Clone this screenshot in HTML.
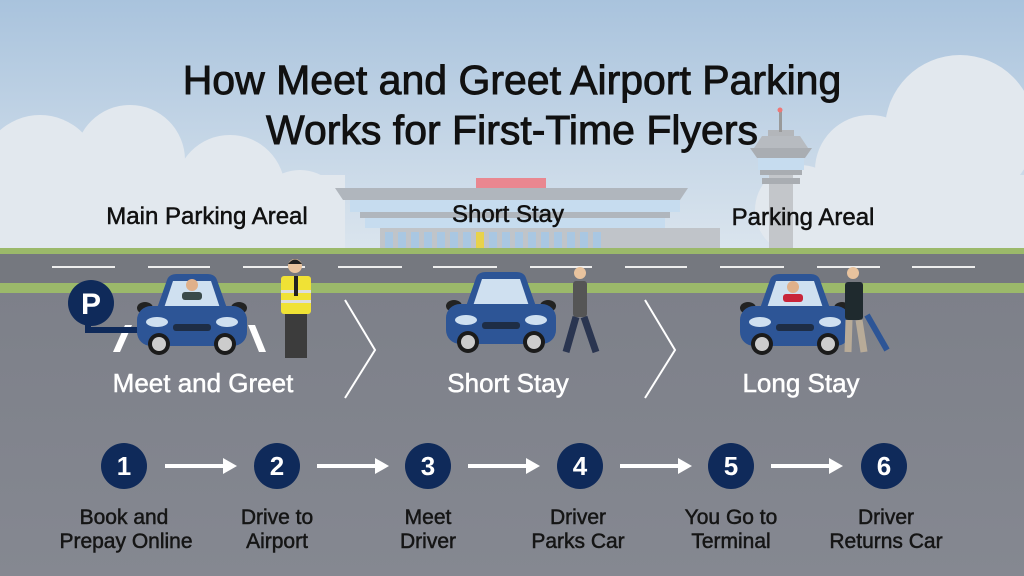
<!DOCTYPE html>
<html><head><meta charset="utf-8"><style>
html,body{margin:0;padding:0;width:1024px;height:576px;overflow:hidden}
svg{display:block}
text{font-family:"Liberation Sans",sans-serif}
</style></head><body>
<svg width="1024" height="576" viewBox="0 0 1024 576" xmlns="http://www.w3.org/2000/svg">
<defs>
<linearGradient id="sky" x1="0" y1="0" x2="0" y2="1">
<stop offset="0" stop-color="#a9c3dd"/><stop offset="1" stop-color="#dbe5ee"/>
</linearGradient>
<linearGradient id="road" x1="0" y1="0" x2="0" y2="1">
<stop offset="0" stop-color="#7c7f88"/><stop offset="1" stop-color="#858891"/>
</linearGradient>
<g id="car">
<path d="M18,42 L30,8 Q32,2 40,2 L70,2 Q78,2 80,8 L92,42 Z" fill="#2d5596"/>
<path d="M27,36 L36,9 L74,9 L83,36 Z" fill="#cfe0f0"/>
<ellipse cx="8" cy="36" rx="8" ry="6" fill="#222"/>
<ellipse cx="102" cy="36" rx="8" ry="6" fill="#222"/>
<rect x="0" y="34" width="110" height="40" rx="14" fill="#2d5596"/>
<ellipse cx="20" cy="50" rx="11" ry="5" fill="#cfe0f0"/>
<ellipse cx="90" cy="50" rx="11" ry="5" fill="#cfe0f0"/>
<rect x="36" y="52" width="38" height="7" rx="3" fill="#1e2d45"/>
<circle cx="22" cy="72" r="11" fill="#1b1b1b"/><circle cx="22" cy="72" r="7" fill="#ccc"/>
<circle cx="88" cy="72" r="11" fill="#1b1b1b"/><circle cx="88" cy="72" r="7" fill="#ccc"/>
</g>
</defs>
<rect width="1024" height="252" fill="url(#sky)"/>
<g fill="#e2e8ee">
<circle cx="40" cy="175" r="60"/><circle cx="130" cy="160" r="55"/><circle cx="230" cy="190" r="55"/><circle cx="300" cy="215" r="45"/>
<rect x="0" y="175" width="345" height="77"/>
<circle cx="870" cy="170" r="55"/><circle cx="960" cy="130" r="75"/><circle cx="800" cy="210" r="45"/>
<rect x="770" y="175" width="254" height="77"/>
</g>
<rect x="476" y="178" width="70" height="10" fill="#e98790"/>
<polygon points="335,188 688,188 680,200 343,200" fill="#b0b6bd"/>
<rect x="350" y="200" width="330" height="12" fill="#c6dcef"/>
<rect x="360" y="212" width="310" height="6" fill="#b0b6bd"/>
<rect x="365" y="218" width="300" height="10" fill="#c6dcef"/>
<rect x="380" y="228" width="340" height="22" fill="#c0c4c9"/>
<g fill="#a9c7e2">
<rect x="385" y="232" width="8" height="16"/><rect x="398" y="232" width="8" height="16"/><rect x="411" y="232" width="8" height="16"/><rect x="424" y="232" width="8" height="16"/><rect x="437" y="232" width="8" height="16"/><rect x="450" y="232" width="8" height="16"/><rect x="463" y="232" width="8" height="16"/><rect x="489" y="232" width="8" height="16"/><rect x="502" y="232" width="8" height="16"/><rect x="515" y="232" width="8" height="16"/><rect x="528" y="232" width="8" height="16"/><rect x="541" y="232" width="8" height="16"/><rect x="554" y="232" width="8" height="16"/><rect x="567" y="232" width="8" height="16"/><rect x="580" y="232" width="8" height="16"/><rect x="593" y="232" width="8" height="16"/>
</g>
<rect x="476" y="232" width="8" height="16" fill="#e8d24a"/>
<rect x="769" y="160" width="24" height="92" fill="#c3c6ca"/>
<polygon points="750,148 812,148 805,158 757,158" fill="#a9adb2"/>
<rect x="758" y="158" width="46" height="12" fill="#c6dcef"/>
<rect x="760" y="170" width="42" height="5" fill="#a9adb2"/>
<rect x="762" y="178" width="38" height="6" fill="#a9adb2"/>
<rect x="768" y="130" width="26" height="6" fill="#b3b6ba"/>
<polygon points="762,136 800,136 808,148 754,148" fill="#b7bbc0"/>
<rect x="779" y="110" width="3" height="22" fill="#999"/>
<circle cx="780" cy="110" r="2.5" fill="#e77"/>
<rect y="248" width="1024" height="6" fill="#9bb96a"/>
<rect y="254" width="1024" height="322" fill="url(#road)"/>
<rect y="254" width="1024" height="30" fill="#75787f"/>
<rect y="283" width="1024" height="10" fill="#9bb96a"/>
<g stroke="#eee" stroke-width="2">
<line x1="52" y1="267" x2="115" y2="267"/><line x1="148" y1="267" x2="210" y2="267"/><line x1="243" y1="267" x2="305" y2="267"/><line x1="338" y1="267" x2="402" y2="267"/><line x1="433" y1="267" x2="497" y2="267"/><line x1="530" y1="267" x2="592" y2="267"/><line x1="625" y1="267" x2="687" y2="267"/><line x1="720" y1="267" x2="784" y2="267"/><line x1="817" y1="267" x2="880" y2="267"/><line x1="912" y1="267" x2="975" y2="267"/>
</g>
<g fill="#111" stroke="#111" stroke-width="0.9" text-anchor="middle">
<text x="512" y="94" font-size="41">How Meet and Greet Airport Parking</text>
<text x="512" y="144" font-size="41">Works for First-Time Flyers</text>
</g>
<g fill="#111" stroke="#111" stroke-width="0.5" text-anchor="middle" font-size="24">
<text x="207" y="224">Main Parking Areal</text>
<text x="508" y="222">Short Stay</text>
<text x="803" y="225">Parking Areal</text>
</g>
<polygon points="125,325 132,325 120,352 113,352" fill="#fff"/>
<polygon points="248,325 255,325 266,352 259,352" fill="#fff"/>
<path d="M88,320 L88,330 L150,330" stroke="#0f2a5a" stroke-width="6" fill="none"/>
<circle cx="91" cy="303" r="23" fill="#0f2a5a"/>
<text x="91" y="314" font-size="30" font-weight="bold" fill="#fff" text-anchor="middle">P</text>
<use href="#car" x="137" y="272"/>
<circle cx="192" cy="285" r="6" fill="#e0b08a"/><rect x="182" y="292" width="20" height="8" rx="3" fill="#3a4a4a"/>
<use href="#car" x="446" y="270"/>
<use href="#car" x="740" y="272"/>
<circle cx="793" cy="287" r="6" fill="#e0b08a"/><rect x="783" y="294" width="20" height="8" rx="3" fill="#c8253a"/>
<circle cx="295" cy="266" r="7" fill="#e8c39e"/><path d="M288,264 Q295,255 302,264 Z" fill="#222"/>
<rect x="281" y="276" width="30" height="38" rx="3" fill="#f0e235"/>
<rect x="281" y="290" width="30" height="3" fill="#ddd"/><rect x="281" y="300" width="30" height="3" fill="#ddd"/>
<rect x="294" y="276" width="4" height="20" fill="#222"/>
<rect x="285" y="314" width="22" height="44" fill="#3c3c3c"/>
<circle cx="580" cy="273" r="6" fill="#e8c39e"/>
<rect x="573" y="281" width="14" height="36" rx="3" fill="#555"/>
<path d="M576,317 L566,352 M584,317 L596,352" stroke="#2a3550" stroke-width="7"/>
<circle cx="853" cy="273" r="6" fill="#e8c39e"/>
<rect x="845" y="282" width="18" height="38" rx="3" fill="#1f2a2e"/>
<path d="M849,320 L848,352 M859,320 L864,352" stroke="#b8ab98" stroke-width="7"/>
<line x1="867" y1="315" x2="887" y2="350" stroke="#2d5596" stroke-width="6"/>
<polyline points="345,300 375,350 345,398" stroke="#fff" stroke-width="2" fill="none"/>
<polyline points="645,300 675,350 645,398" stroke="#fff" stroke-width="2" fill="none"/>
<g font-size="26" fill="#fff" stroke="#fff" stroke-width="0.5" text-anchor="middle">
<text x="203" y="392">Meet and Greet</text>
<text x="508" y="392">Short Stay</text>
<text x="801" y="392">Long Stay</text>
</g>
<g fill="#0f2a5a">
<circle cx="124" cy="466" r="23"/><circle cx="277" cy="466" r="23"/><circle cx="428" cy="466" r="23"/><circle cx="580" cy="466" r="23"/><circle cx="731" cy="466" r="23"/><circle cx="884" cy="466" r="23"/>
</g>
<g font-size="26" font-weight="bold" fill="#fff" text-anchor="middle">
<text x="124" y="475">1</text><text x="277" y="475">2</text><text x="428" y="475">3</text><text x="580" y="475">4</text><text x="731" y="475">5</text><text x="884" y="475">6</text>
</g>
<g stroke="#fff" stroke-width="4">
<line x1="165" y1="466" x2="225" y2="466"/><line x1="317" y1="466" x2="377" y2="466"/><line x1="468" y1="466" x2="528" y2="466"/><line x1="620" y1="466" x2="680" y2="466"/><line x1="771" y1="466" x2="831" y2="466"/>
</g>
<g fill="#fff">
<polygon points="223,458 237,466 223,474"/><polygon points="375,458 389,466 375,474"/><polygon points="526,458 540,466 526,474"/><polygon points="678,458 692,466 678,474"/><polygon points="829,458 843,466 829,474"/>
</g>
<g font-size="21" fill="#151515" stroke="#151515" stroke-width="0.5" text-anchor="middle">
<text x="124" y="524">Book and</text><text x="126" y="548">Prepay Online</text>
<text x="277" y="524">Drive to</text><text x="277" y="548">Airport</text>
<text x="428" y="524">Meet</text><text x="428" y="548">Driver</text>
<text x="578" y="524">Driver</text><text x="578" y="548">Parks Car</text>
<text x="731" y="524">You Go to</text><text x="731" y="548">Terminal</text>
<text x="886" y="524">Driver</text><text x="886" y="548">Returns Car</text>
</g>
</svg>
</body></html>
